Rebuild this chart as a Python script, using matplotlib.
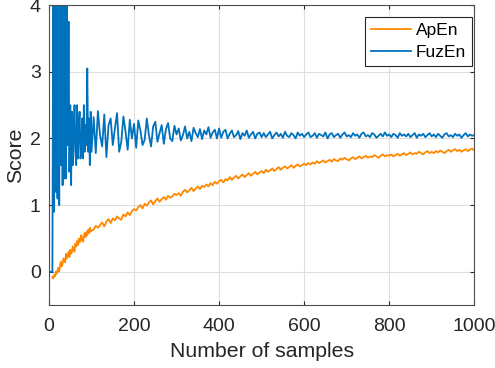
import numpy as np
import matplotlib.pyplot as plt

# sample counts: dense at the start, then every 5 samples
samples = np.concatenate([np.arange(2, 101, 2), np.arange(105, 1001, 5)])

# ApEn, samples 2..100 (step 2)
apen_early = [np.nan, np.nan, np.nan, -0.08, -0.1, -0.05, -0.07, 0.0, -0.03, 0.02,
              0.06, 0.0, 0.1, 0.15, 0.08, 0.12, 0.2, 0.17, 0.14, 0.27,
              0.2, 0.25, 0.3, 0.22, 0.33, 0.27, 0.3, 0.38, 0.34, 0.3,
              0.42, 0.38, 0.46, 0.4, 0.5, 0.44, 0.47, 0.55, 0.48, 0.45,
              0.53, 0.58, 0.52, 0.6, 0.55, 0.63, 0.58, 0.66, 0.6, 0.62]
# ApEn, samples 105..1000 (step 5)
apen_late = [0.63, 0.69, 0.66, 0.7, 0.74, 0.68, 0.75, 0.79, 0.73, 0.8,
             0.77, 0.83, 0.8, 0.78, 0.86, 0.83, 0.89, 0.85, 0.91, 0.94,
             0.92, 0.97, 1.0, 0.95, 1.02, 0.99, 1.04, 1.07, 1.01, 1.06,
             1.1, 1.05, 1.09, 1.12, 1.08, 1.14, 1.11, 1.13, 1.17, 1.15,
             1.18, 1.14, 1.2, 1.23, 1.19, 1.22, 1.26, 1.21, 1.25, 1.28,
             1.24, 1.29, 1.27, 1.31, 1.28, 1.33, 1.3, 1.35, 1.32, 1.36,
             1.38, 1.34, 1.39, 1.37, 1.42, 1.38, 1.41, 1.44, 1.4, 1.43,
             1.46, 1.42, 1.45, 1.48, 1.44, 1.47, 1.5, 1.46, 1.49, 1.51,
             1.48, 1.53, 1.5, 1.52, 1.55, 1.51, 1.54, 1.57, 1.53, 1.56,
             1.58, 1.55, 1.57, 1.6, 1.56, 1.59, 1.61, 1.58, 1.6, 1.62,
             1.6, 1.63, 1.61, 1.64, 1.62, 1.66, 1.63, 1.65, 1.67, 1.64,
             1.66, 1.68, 1.65, 1.69, 1.67, 1.66, 1.7, 1.68, 1.71, 1.69,
             1.67, 1.7, 1.72, 1.69, 1.71, 1.73, 1.7, 1.72, 1.74, 1.71,
             1.73, 1.72, 1.75, 1.73, 1.71, 1.74, 1.76, 1.73, 1.75, 1.74,
             1.76, 1.73, 1.75, 1.77, 1.74, 1.76, 1.78, 1.75, 1.77, 1.79,
             1.76, 1.78, 1.77, 1.8, 1.78, 1.76, 1.79, 1.81, 1.78, 1.8,
             1.78, 1.81, 1.79, 1.82, 1.8, 1.78, 1.81, 1.83, 1.8, 1.82,
             1.84, 1.81, 1.83, 1.8, 1.82, 1.84, 1.81, 1.83, 1.85, 1.82]

# FuzEn, samples 2..100 (step 2)
fuzen_early = [0.0, 0.0, 0.0, 0.0, 4.6, 0.9, 4.8, 1.2, 5.0, 1.1,
               4.4, 1.0, 4.9, 1.6, 4.2, 1.3, 4.5, 1.4, 4.1, 1.4,
               4.3, 1.9, 3.75, 1.5, 2.5, 1.3, 2.4, 1.6, 2.1, 2.5,
               1.8, 1.6, 2.5, 1.7, 2.2, 2.4, 1.7, 1.8, 2.3, 1.7,
               2.5, 1.8, 2.2, 1.9, 3.05, 1.8, 2.3, 1.6, 2.4, 1.8]
# FuzEn, samples 105..1000 (step 5)
fuzen_late = [2.32, 1.78, 2.41, 2.05, 1.88, 2.36, 1.72, 2.2, 2.3, 1.9,
              2.15, 2.38, 1.8, 1.95, 2.33, 2.1, 1.83, 2.28, 2.0, 2.22,
              1.86, 2.27, 2.12, 1.9, 1.98, 2.3, 2.05, 1.88, 2.18, 2.25,
              1.95, 2.08, 2.2, 1.92, 2.14, 2.23, 2.0, 1.96, 2.19, 2.06,
              2.15, 1.97, 2.05, 2.18, 2.0, 2.1, 1.96, 2.16, 2.08, 2.02,
              2.14, 1.99, 2.12, 2.06, 2.17, 2.01, 2.09, 2.13, 2.0, 2.15,
              2.01, 2.1, 2.13, 2.0, 2.07, 2.12, 2.02, 2.05, 2.11, 1.99,
              2.08, 2.04, 2.12, 2.01, 2.06, 2.1, 2.0, 2.07, 2.09, 2.02,
              2.08, 2.02, 2.06, 2.1, 2.0, 2.05, 2.09, 2.03, 2.07, 2.01,
              2.1, 2.04, 2.02, 2.08, 2.05, 2.0, 2.09, 2.04, 2.07, 2.02,
              2.06, 2.09, 2.02, 2.04, 2.08, 2.01, 2.07, 2.05, 2.03, 2.09,
              2.0, 2.06, 2.08, 2.02, 2.05, 2.07, 2.01, 2.06, 2.09, 2.03,
              2.05, 2.02, 2.08, 2.04, 2.06, 2.01, 2.07, 2.09, 2.03, 2.05,
              2.02, 2.08, 2.06, 2.01, 2.04, 2.07, 2.03, 2.09, 2.04, 2.06,
              2.02, 2.07, 2.05, 2.01, 2.08, 2.04, 2.06, 2.03, 2.07, 2.02,
              2.05, 2.08, 2.01, 2.06, 2.04, 2.07, 2.02, 2.05, 2.08, 2.03,
              2.06, 2.02, 2.07, 2.04, 2.01, 2.06, 2.08, 2.03, 2.05, 2.02,
              2.07, 2.04, 2.06, 2.01, 2.05, 2.08, 2.03, 2.06, 2.04, 2.05]

apen = np.array(apen_early + apen_late)
fuzen = np.array(fuzen_early + fuzen_late)

plt.rcParams['font.family'] = ['Liberation Sans', 'DejaVu Sans']
txt = '#262626'

fig = plt.figure(figsize=(4.95, 3.68), dpi=100)
ax = fig.add_axes([0.099, 0.171, 0.859, 0.815])

ax.plot(samples, apen, color='#FF8800', lw=1.3, label='ApEn')
ax.plot(samples, fuzen, color='#0072BD', lw=1.3, label='FuzEn')

ax.set_xlim(0, 1000)
ax.set_ylim(-0.5, 4)
ax.set_xticks([0, 200, 400, 600, 800, 1000])
ax.set_yticks([0, 1, 2, 3, 4])
ax.grid(True, color='#dfdfdf', lw=0.8)
ax.set_axisbelow(True)
ax.tick_params(direction='in', length=3, labelsize=14, colors=txt,
               top=True, right=True, labeltop=False, labelright=False)
ax.tick_params(axis='x', pad=9)
ax.tick_params(axis='y', pad=6)
for s in ax.spines.values():
    s.set_color('#4d4d4d')
    s.set_linewidth(0.8)

ax.set_xlabel('Number of samples', fontsize=15.3, color=txt, labelpad=5)
ax.set_ylabel('Score', fontsize=15.3, color=txt, labelpad=3)

leg = ax.legend(loc='upper right', bbox_to_anchor=(0.995, 0.96), fontsize=12.5,
                frameon=True, fancybox=False, edgecolor='#262626', framealpha=1,
                borderaxespad=0, handlelength=2.3, handletextpad=0.3,
                borderpad=0.35, labelspacing=0.35)
leg.get_frame().set_linewidth(0.8)

fig.savefig('out.png', dpi=100)
